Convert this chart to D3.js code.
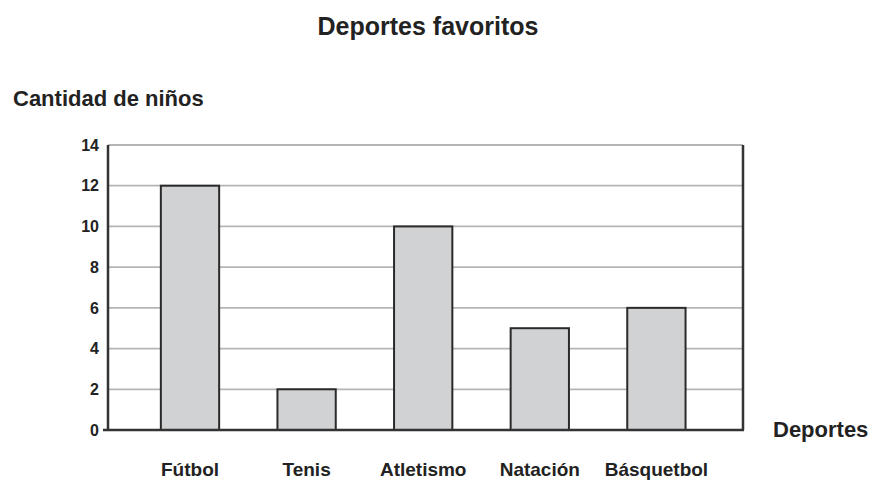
<!DOCTYPE html>
<html>
<head>
<meta charset="utf-8">
<script src="https://cdn.jsdelivr.net/npm/d3@7"></script>
<style>
  body { margin: 0; background: #fff; }
  text { font-family: "Liberation Sans", Arial, sans-serif; font-weight: bold; fill: #222; }
</style>
</head>
<body>
<div id="chart"></div>
<script>
// data
const deportes = ["Fútbol", "Tenis", "Atletismo", "Natación", "Básquetbol"];
const ninos = [12, 2, 10, 5, 6];
const ticks = [0, 2, 4, 6, 8, 10, 12, 14];

// dimensions
const dimensions = {
    width: 873,
    height: 487,
    left: 108,
    right: 743,
    top: 145,
    bottom: 430,
};

const svg = d3.select("#chart")
    .append("svg")
    .attr("width", dimensions.width)
    .attr("height", dimensions.height);

// scales
const x = d3.scaleBand()
    .domain(deportes)
    .range([dimensions.left + 23.7, dimensions.right - 28.3])
    .paddingInner(0.5)
    .paddingOuter(0.25);

const y = d3.scaleLinear()
    .domain([0, 14])
    .range([dimensions.bottom, dimensions.top]);

// gridlines
svg.append("g")
    .selectAll("line")
    .data(ticks.filter(d => d > 0))
    .join("line")
    .attr("x1", dimensions.left)
    .attr("x2", dimensions.right)
    .attr("y1", d => y(d))
    .attr("y2", d => y(d))
    .attr("stroke", "#b5b5b5")
    .attr("stroke-width", 1.8);

// bars
svg.append("g")
    .selectAll("rect")
    .data(deportes)
    .join("rect")
    .attr("x", d => x(d))
    .attr("y", (d, i) => y(ninos[i]))
    .attr("width", x.bandwidth())
    .attr("height", (d, i) => y(0) - y(ninos[i]))
    .attr("fill", "#d1d2d4")
    .attr("stroke", "#2a2a2a")
    .attr("stroke-width", 2);

// frame: left axis, right border, baseline
svg.append("line")
    .attr("x1", dimensions.left).attr("x2", dimensions.left)
    .attr("y1", dimensions.top).attr("y2", dimensions.bottom)
    .attr("stroke", "#333").attr("stroke-width", 2.5);
svg.append("line")
    .attr("x1", dimensions.right).attr("x2", dimensions.right)
    .attr("y1", dimensions.top).attr("y2", dimensions.bottom)
    .attr("stroke", "#333").attr("stroke-width", 2.5);
svg.append("line")
    .attr("x1", dimensions.left - 5).attr("x2", dimensions.right + 1)
    .attr("y1", dimensions.bottom).attr("y2", dimensions.bottom)
    .attr("stroke", "#333").attr("stroke-width", 2.5);

// y tick labels
svg.append("g")
    .selectAll("text")
    .data(ticks)
    .join("text")
    .attr("x", 99)
    .attr("y", d => y(d))
    .attr("dy", "0.36em")
    .attr("text-anchor", "end")
    .style("font-size", "16px")
    .text(d => d);

// x labels
svg.append("g")
    .selectAll("text")
    .data(deportes)
    .join("text")
    .attr("x", d => x(d) + x.bandwidth() / 2)
    .attr("y", 476)
    .attr("text-anchor", "middle")
    .style("font-size", "19px")
    .text(d => d);

// titles
svg.append("text")
    .attr("x", 428)
    .attr("y", 35)
    .attr("text-anchor", "middle")
    .style("font-size", "25px")
    .text("Deportes favoritos");

svg.append("text")
    .attr("x", 13)
    .attr("y", 106)
    .style("font-size", "22px")
    .text("Cantidad de niños");

svg.append("text")
    .attr("x", 773)
    .attr("y", 437)
    .style("font-size", "22px")
    .text("Deportes");
</script>
</body>
</html>
